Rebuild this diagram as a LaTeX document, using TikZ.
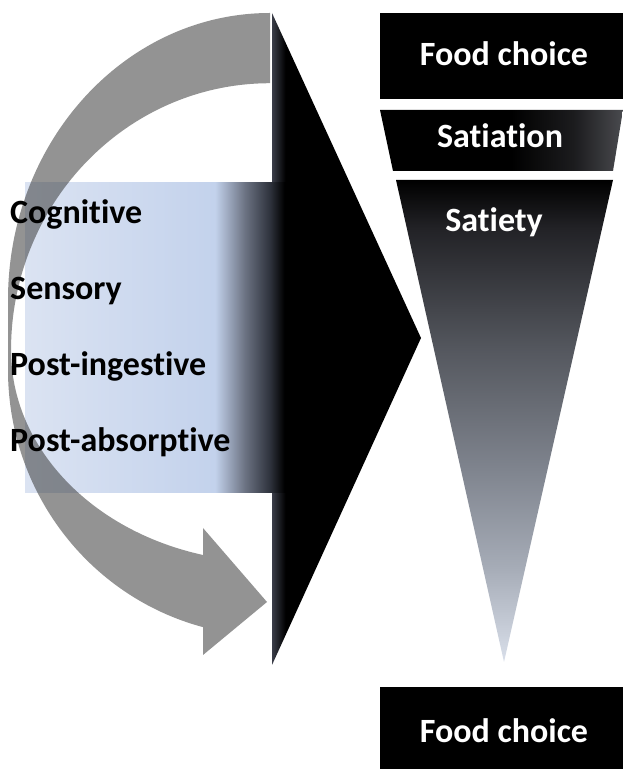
\documentclass[tikz,border=0pt]{standalone}
\usepackage{fontspec}
\setmainfont{Carlito}[Ligatures={NoCommon,NoContextual,NoRare}, Contextuals=NoAlternate]
\newcommand{\nolig}{\kern0pt }
\definecolor{blA}{HTML}{DBE3F2}
\definecolor{blB}{HTML}{C3D2EC}
\definecolor{blC}{HTML}{6B7282}
\definecolor{blD}{HTML}{2E323C}
\definecolor{chv}{HTML}{3A3D48}
\definecolor{satM}{HTML}{1C1C1E}
\definecolor{satR}{HTML}{4A4B4F}
\definecolor{stA}{HTML}{D9DFEA}
\definecolor{stB}{HTML}{A5ABB6}
\definecolor{stC}{HTML}{7F848E}
\definecolor{stD}{HTML}{54575E}
\definecolor{stE}{HTML}{222226}
\definecolor{arrowgray}{HTML}{383838}
\pgfdeclarehorizontalshading{rectshade}{100bp}{color(0bp)=(blA); color(25bp)=(blA); color(61.25bp)=(blB); color(67bp)=(blC); color(71.75bp)=(blD); color(74.5bp)=(black); color(100bp)=(black)}
\pgfdeclarehorizontalshading{chevshade}{100bp}{color(0bp)=(chv); color(25bp)=(chv); color(29.5bp)=(black); color(100bp)=(black)}
\pgfdeclarehorizontalshading{satshade}{100bp}{color(0bp)=(black); color(25bp)=(black); color(52bp)=(black); color(65bp)=(satM); color(75bp)=(satR); color(100bp)=(satR)}
\pgfdeclareverticalshading{satietyshade}{100bp}{color(0bp)=(stA); color(25bp)=(stA); color(35bp)=(stB); color(45bp)=(stC); color(57.5bp)=(stD); color(70bp)=(stE); color(75bp)=(black); color(100bp)=(black)}
\begin{document}
\begin{tikzpicture}[x=1pt,y=1pt,
  lbl/.style={font=\fontsize{34}{40}\selectfont\bfseries, inner sep=0pt, text=black},
  wlbl/.style={font=\fontsize{34}{40}\selectfont\bfseries, inner sep=0pt, text=white},
  curvarrow/.style={fill=arrowgray, fill opacity=0.54, draw=none}]
\useasboundingbox (0,0) rectangle (623,769);
% big chevron
\shade[shading=chevshade] (272,756) -- (421,431) -- (272,104) -- cycle;
% blue band
\shade[shading=rectshade] (25,276) rectangle (287,586);
% curved arrow
\path[curvarrow] (270,756)
  arc[start angle=90, end angle=180, x radius=262pt, y radius=287pt]
  -- (8,399)
  arc[start angle=180, end angle=255.2, x radius=262pt, y radius=266pt]
  -- (203,114) -- (267,167) -- (203,241) -- (203,214)
  arc[start angle=255, end angle=180, x radius=259pt, y radius=212pt]
  arc[start angle=180, end angle=90, x radius=259pt, y radius=267pt]
  -- cycle;
% left labels
\node[lbl, anchor=base west] (cog) at (10,545) {Cognit\nolig ive};
\node[lbl, anchor=base west] (sen) at (10,469) {Sensory};
\node[lbl, anchor=base west] (pin) at (10,393) {Post-ingest\nolig ive};
\node[lbl, anchor=base west] (pab) at (10,317) {Post-absorpt\nolig ive};
% right column
\fill[black] (380,756) rectangle (623,670);
\shade[shading=satshade] (380,659) -- (623,659) -- (613,598) -- (393,598) -- cycle;
\shade[shading=satietyshade] (396,589) -- (613,589) -- (504,107) -- cycle;
\fill[black] (380,82) rectangle (623,0);
\node[wlbl, anchor=base] (fc1) at (504,703) {Food choice};
\node[wlbl, anchor=base] (sat) at (500,621) {Sat\nolig iat\nolig ion};
\node[wlbl, anchor=base] (sty) at (494,537) {Sat\nolig iety};
\node[wlbl, anchor=base] (fc2) at (504,27) {Food choice};
\end{tikzpicture}
\end{document}
